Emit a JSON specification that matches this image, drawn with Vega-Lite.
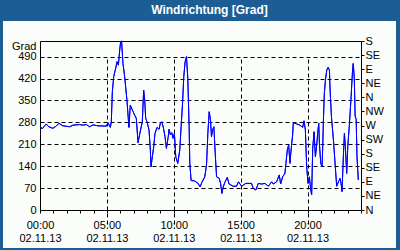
{
  "$schema": "https://vega.github.io/schema/vega-lite/v6.json",
  "width": 393,
  "height": 227,
  "autosize": {"type": "none"},
  "padding": {"left": 3, "right": 4, "top": 21, "bottom": 2},
  "background": "#1c5e94",
  "title": {
    "text": "Windrichtung [Grad]",
    "color": "#ffffff",
    "font": "Liberation Sans",
    "fontSize": 12,
    "fontWeight": "bold",
    "anchor": "middle",
    "frame": "group",
    "baseline": "middle",
    "offset": 10,
    "dy": 11,
    "dx": 10
  },
  "config": {
    "view": {"fill": "#fbfdfb", "stroke": null},
    "axis": {
      "labelFont": "Liberation Sans",
      "labelFontSize": 11,
      "labelColor": "#000000",
      "titleFont": "Liberation Sans",
      "titleFontSize": 11,
      "titleFontWeight": "normal",
      "titleColor": "#000000",
      "domainColor": "#000000",
      "tickColor": "#000000",
      "gridColor": "#000000",
      "gridDash": [4, 3],
      "gridWidth": 1,
      "labelOverlap": false,
      "labelFlush": false
    }
  },
  "data": {
    "values": [
      {"h": 0.04, "v": 266}, {"h": 0.16, "v": 259}, {"h": 0.46, "v": 275}, {"h": 0.66, "v": 266},
      {"h": 0.96, "v": 261}, {"h": 1.21, "v": 268}, {"h": 1.41, "v": 277}, {"h": 1.71, "v": 269},
      {"h": 2.21, "v": 266}, {"h": 2.46, "v": 271}, {"h": 2.96, "v": 273}, {"h": 3.21, "v": 271},
      {"h": 3.46, "v": 273}, {"h": 3.71, "v": 266}, {"h": 3.96, "v": 272}, {"h": 4.33, "v": 269},
      {"h": 4.96, "v": 268}, {"h": 5.08, "v": 279}, {"h": 5.26, "v": 264}, {"h": 5.33, "v": 281},
      {"h": 5.41, "v": 378}, {"h": 5.51, "v": 426}, {"h": 5.66, "v": 453}, {"h": 5.76, "v": 474},
      {"h": 5.86, "v": 463}, {"h": 5.96, "v": 511}, {"h": 6.03, "v": 538}, {"h": 6.1, "v": 540},
      {"h": 6.2, "v": 469}, {"h": 6.33, "v": 426}, {"h": 6.5, "v": 351}, {"h": 6.6, "v": 293},
      {"h": 6.65, "v": 264}, {"h": 6.75, "v": 335}, {"h": 6.9, "v": 320}, {"h": 7.08, "v": 303},
      {"h": 7.2, "v": 293}, {"h": 7.33, "v": 215}, {"h": 7.45, "v": 242}, {"h": 7.65, "v": 282},
      {"h": 7.75, "v": 383}, {"h": 7.83, "v": 351}, {"h": 7.9, "v": 293}, {"h": 8.0, "v": 282},
      {"h": 8.15, "v": 256}, {"h": 8.25, "v": 192}, {"h": 8.3, "v": 138}, {"h": 8.4, "v": 170},
      {"h": 8.5, "v": 202}, {"h": 8.6, "v": 245}, {"h": 8.75, "v": 264}, {"h": 8.9, "v": 258},
      {"h": 9.0, "v": 277}, {"h": 9.1, "v": 282}, {"h": 9.2, "v": 268}, {"h": 9.35, "v": 234},
      {"h": 9.45, "v": 197}, {"h": 9.58, "v": 232}, {"h": 9.65, "v": 258}, {"h": 9.75, "v": 240},
      {"h": 9.85, "v": 247}, {"h": 9.95, "v": 229}, {"h": 10.05, "v": 245}, {"h": 10.15, "v": 170},
      {"h": 10.3, "v": 149}, {"h": 10.45, "v": 192}, {"h": 10.55, "v": 266}, {"h": 10.65, "v": 335},
      {"h": 10.75, "v": 426}, {"h": 10.85, "v": 474}, {"h": 10.95, "v": 490}, {"h": 11.05, "v": 421},
      {"h": 11.15, "v": 266}, {"h": 11.2, "v": 149}, {"h": 11.3, "v": 94}, {"h": 11.57, "v": 93},
      {"h": 11.82, "v": 85}, {"h": 11.97, "v": 74}, {"h": 12.1, "v": 88}, {"h": 12.32, "v": 106},
      {"h": 12.45, "v": 144}, {"h": 12.55, "v": 245}, {"h": 12.65, "v": 314}, {"h": 12.75, "v": 287},
      {"h": 12.82, "v": 234}, {"h": 12.9, "v": 256}, {"h": 13.0, "v": 266}, {"h": 13.1, "v": 181},
      {"h": 13.2, "v": 106}, {"h": 13.4, "v": 101}, {"h": 13.5, "v": 85}, {"h": 13.6, "v": 53},
      {"h": 13.7, "v": 74}, {"h": 13.82, "v": 88}, {"h": 14.0, "v": 104}, {"h": 14.14, "v": 83},
      {"h": 14.44, "v": 76}, {"h": 14.69, "v": 76}, {"h": 14.84, "v": 90}, {"h": 15.07, "v": 76},
      {"h": 15.39, "v": 85}, {"h": 15.69, "v": 85}, {"h": 15.82, "v": 85}, {"h": 15.94, "v": 69},
      {"h": 16.14, "v": 64}, {"h": 16.32, "v": 85}, {"h": 16.57, "v": 83}, {"h": 16.82, "v": 85},
      {"h": 17.07, "v": 76}, {"h": 17.32, "v": 90}, {"h": 17.44, "v": 83}, {"h": 17.69, "v": 90},
      {"h": 17.89, "v": 112}, {"h": 17.99, "v": 83}, {"h": 18.14, "v": 106}, {"h": 18.31, "v": 117},
      {"h": 18.39, "v": 149}, {"h": 18.49, "v": 192}, {"h": 18.59, "v": 208}, {"h": 18.69, "v": 149},
      {"h": 18.74, "v": 176}, {"h": 18.81, "v": 208}, {"h": 18.89, "v": 240}, {"h": 18.94, "v": 279},
      {"h": 19.19, "v": 275}, {"h": 19.44, "v": 271}, {"h": 19.64, "v": 264}, {"h": 19.74, "v": 285},
      {"h": 19.84, "v": 256}, {"h": 19.94, "v": 138}, {"h": 20.04, "v": 85}, {"h": 20.14, "v": 106},
      {"h": 20.24, "v": 66}, {"h": 20.31, "v": 48}, {"h": 20.39, "v": 197}, {"h": 20.49, "v": 250},
      {"h": 20.59, "v": 170}, {"h": 20.69, "v": 208}, {"h": 20.76, "v": 245}, {"h": 20.84, "v": 277},
      {"h": 20.89, "v": 213}, {"h": 20.99, "v": 149}, {"h": 21.09, "v": 138}, {"h": 21.14, "v": 202},
      {"h": 21.19, "v": 288}, {"h": 21.26, "v": 373}, {"h": 21.34, "v": 415}, {"h": 21.44, "v": 447},
      {"h": 21.54, "v": 456}, {"h": 21.64, "v": 447}, {"h": 21.69, "v": 383}, {"h": 21.79, "v": 298},
      {"h": 21.94, "v": 223}, {"h": 22.08, "v": 138}, {"h": 22.18, "v": 76}, {"h": 22.31, "v": 90},
      {"h": 22.43, "v": 101}, {"h": 22.51, "v": 85}, {"h": 22.58, "v": 59}, {"h": 22.68, "v": 170},
      {"h": 22.76, "v": 245}, {"h": 22.83, "v": 202}, {"h": 22.93, "v": 117}, {"h": 23.01, "v": 202},
      {"h": 23.13, "v": 271}, {"h": 23.26, "v": 362}, {"h": 23.36, "v": 440}, {"h": 23.42, "v": 468},
      {"h": 23.5, "v": 421}, {"h": 23.56, "v": 300}, {"h": 23.64, "v": 290}, {"h": 23.7, "v": 170},
      {"h": 23.8, "v": 96}
    ]
  },
  "encoding": {
    "x": {
      "field": "h",
      "type": "quantitative",
      "scale": {"domain": [0, 24], "range": [37, 358], "nice": false, "zero": false}
    },
    "y": {
      "field": "v",
      "type": "quantitative",
      "scale": {"domain": [0, 540], "range": [189, 20], "nice": false, "zero": false}
    }
  },
  "layer": [
    {
      "mark": {"type": "line", "color": "#0000ff", "strokeWidth": 1, "interpolate": "linear"},
      "encoding": {
        "x": {
          "field": "h",
          "type": "quantitative",
          "axis": {
            "orient": "bottom",
            "offset": -38,
            "title": null,
            "values": [0, 1, 2, 3, 4, 5, 6, 7, 8, 9, 10, 11, 12, 13, 14, 15, 16, 17, 18, 19, 20, 21, 22, 23, 24],
            "labelExpr": "datum.value % 5 === 0 && datum.value < 24 ? [format(datum.value, '02d') + ':00', '02.11.13'] : ''",
            "labelLineHeight": 13,
            "labelPadding": 6,
            "labelBaseline": "top",
            "tickSize": 3,
            "grid": true,
            "gridOpacity": {"condition": {"test": "datum.value % 5 === 0 && datum.value > 0 && datum.value < 24", "value": 1}, "value": 0}
          }
        },
        "y": {
          "field": "v",
          "type": "quantitative",
          "axis": {
            "orient": "left",
            "offset": -37,
            "title": "Grad",
            "titleAngle": 0,
            "titleAlign": "right",
            "titleBaseline": "middle",
            "titleX": -4,
            "titleY": 25,
            "values": [0, 70, 140, 210, 280, 350, 420, 490],
            "ticks": false,
            "labelPadding": 4,
            "grid": true,
            "gridOpacity": {"condition": {"test": "datum.value > 0", "value": 1}, "value": 0}
          }
        }
      }
    },
    {
      "mark": {"type": "line", "color": "#0000ff", "strokeWidth": 1},
      "encoding": {
        "x": {
          "field": "h",
          "type": "quantitative",
          "axis": {
            "orient": "top",
            "offset": -20,
            "title": null,
            "labels": false,
            "ticks": false,
            "grid": false,
            "domain": true
          }
        },
        "y": {
          "field": "v",
          "type": "quantitative",
          "axis": {
            "orient": "right",
            "offset": -35,
            "title": null,
            "values": [0, 45, 90, 135, 180, 225, 270, 315, 360, 405, 450, 495, 540],
            "labelExpr": "['N','NE','E','SE','S','SW','W','NW'][(datum.value / 45) % 8]",
            "tickSize": 3,
            "labelPadding": 1,
            "grid": false,
            "domain": true
          }
        }
      }
    }
  ],
  "resolve": {"axis": {"x": "independent", "y": "independent"}}
}
